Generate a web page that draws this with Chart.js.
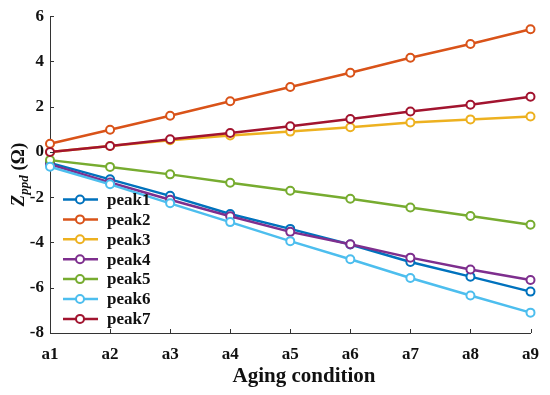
<!DOCTYPE html>
<html lang="en">
<head>
    <meta charset="UTF-8">
    <title>Zppd vs aging condition</title>
    <script src="https://cdn.jsdelivr.net/npm/chart.js"></script>
    <style>
        body { margin: 0; background: #fff; }
        #wrap { width: 550px; height: 395px; position: relative; }
    </style>
</head>
<body>
<div id="wrap"><canvas id="chart"></canvas></div>
<script>
    const categories = ['a1', 'a2', 'a3', 'a4', 'a5', 'a6', 'a7', 'a8', 'a9'];
    const yTicks = [-8, -6, -4, -2, 0, 2, 4, 6];

    const peak1 = [-0.48, -1.21, -1.94, -2.74, -3.40, -4.09, -4.86, -5.51, -6.17];
    const peak2 = [0.36, 0.98, 1.60, 2.24, 2.87, 3.50, 4.16, 4.77, 5.42];
    const peak3 = [0.00, 0.26, 0.52, 0.73, 0.90, 1.09, 1.30, 1.44, 1.57];
    const peak4 = [-0.55, -1.35, -2.11, -2.84, -3.53, -4.08, -4.67, -5.19, -5.66];
    const peak5 = [-0.36, -0.66, -0.99, -1.36, -1.71, -2.07, -2.45, -2.83, -3.22];
    const peak6 = [-0.65, -1.43, -2.27, -3.10, -3.94, -4.74, -5.57, -6.34, -7.10];
    const peak7 = [0.00, 0.26, 0.56, 0.84, 1.14, 1.46, 1.79, 2.09, 2.44];

    const names = ['peak1', 'peak2', 'peak3', 'peak4', 'peak5', 'peak6', 'peak7'];
    const series = [peak1, peak2, peak3, peak4, peak5, peak6, peak7];
    const colors = ['#0072BD', '#D95319', '#EDB120', '#7E2F8E', '#77AC30', '#4DBEEE', '#A2142F'];

    const SERIF = '"Liberation Serif", "DejaVu Serif", serif';

    // axis ticks pointing inward, custom legend and axis titles
    const extras = {
        id: 'extras',
        afterDraw(chart) {
            const ctx = chart.ctx;
            const xs = chart.scales.x, ys = chart.scales.y;
            const area = chart.chartArea;
            ctx.save();
            ctx.strokeStyle = '#333';
            ctx.lineWidth = 1;
            ctx.beginPath();
            categories.forEach((c, i) => {
                const px = Math.round(xs.getPixelForValue(i)) + 0.5;
                ctx.moveTo(px, area.bottom);
                ctx.lineTo(px, area.bottom - 4);
            });
            yTicks.forEach(v => {
                const py = Math.round(ys.getPixelForValue(v)) + 0.5;
                ctx.moveTo(area.left, py);
                ctx.lineTo(area.left + 4, py);
            });
            ctx.stroke();

            // legend
            ctx.textBaseline = 'middle';
            ctx.textAlign = 'left';
            ctx.font = 'bold 17px ' + SERIF;
            names.forEach((n, i) => {
                const y = 199.5 + i * 19.9;
                ctx.strokeStyle = colors[i];
                ctx.lineWidth = 2.5;
                ctx.beginPath();
                ctx.moveTo(63, y);
                ctx.lineTo(98, y);
                ctx.stroke();
                ctx.fillStyle = '#fff';
                ctx.lineWidth = 2;
                ctx.beginPath();
                ctx.arc(80, y, 4, 0, Math.PI * 2);
                ctx.fill();
                ctx.stroke();
                ctx.fillStyle = '#111';
                ctx.fillText(n, 107, y + 1);
            });

            // x axis title
            ctx.fillStyle = '#111';
            ctx.textAlign = 'center';
            ctx.textBaseline = 'middle';
            ctx.font = 'bold 21px ' + SERIF;
            ctx.fillText('Aging condition', 304, 377);

            // y axis title
            ctx.textAlign = 'left';
            ctx.translate(18, (area.top + area.bottom) / 2);
            ctx.rotate(-Math.PI / 2);
            ctx.textBaseline = 'alphabetic';
            const p1 = 'italic bold 19px ' + SERIF;
            const p2 = 'italic bold 13px ' + SERIF;
            const p3 = 'bold 19px ' + SERIF;
            ctx.font = p1; const w1 = ctx.measureText('Z').width;
            ctx.font = p2; const w2 = ctx.measureText('ppd').width;
            ctx.font = p3; const w3 = ctx.measureText(' (Ω)').width;
            let x0 = -(w1 + w2 + w3) / 2;
            ctx.font = p1; ctx.fillText('Z', x0, 6); x0 += w1;
            ctx.font = p2; ctx.fillText('ppd', x0, 10); x0 += w2;
            ctx.font = p3; ctx.fillText(' (Ω)', x0, 6);
            ctx.restore();
        }
    };

    new Chart(document.getElementById('chart'), {
        type: 'line',
        data: {
            labels: categories,
            datasets: series.map((d, i) => ({
                label: names[i],
                data: d,
                order: names.length - i, // later series on top
                borderColor: colors[i],
                backgroundColor: '#fff',
                pointBackgroundColor: '#fff',
                pointBorderColor: colors[i],
                pointRadius: 4,
                pointBorderWidth: 2,
                borderWidth: 2.5,
                tension: 0,
                fill: false
            }))
        },
        options: {
            responsive: true,
            maintainAspectRatio: false,
            animation: false,
            layout: { padding: { top: 13, right: 16, left: 0, bottom: 0 } },
            plugins: { legend: { display: false }, tooltip: { enabled: false } },
            scales: {
                x: {
                    offset: false,
                    grid: { display: false, drawTicks: false },
                    border: { display: true, color: '#333', width: 1 },
                    ticks: { color: '#111', font: { family: SERIF, size: 17, weight: 'bold' }, padding: 11, maxRotation: 0 },
                    afterFit(s) { s.height = 62; }
                },
                y: {
                    min: -8, max: 6,
                    afterBuildTicks(s) { s.ticks = yTicks.map(v => ({ value: v })); },
                    grid: { display: false, drawTicks: false },
                    border: { display: true, color: '#333', width: 1 },
                    ticks: { color: '#111', font: { family: SERIF, size: 17, weight: 'bold' }, padding: 6 },
                    afterFit(s) { s.width = 50; }
                }
            }
        },
        plugins: [extras]
    });
</script>
</body>
</html>
